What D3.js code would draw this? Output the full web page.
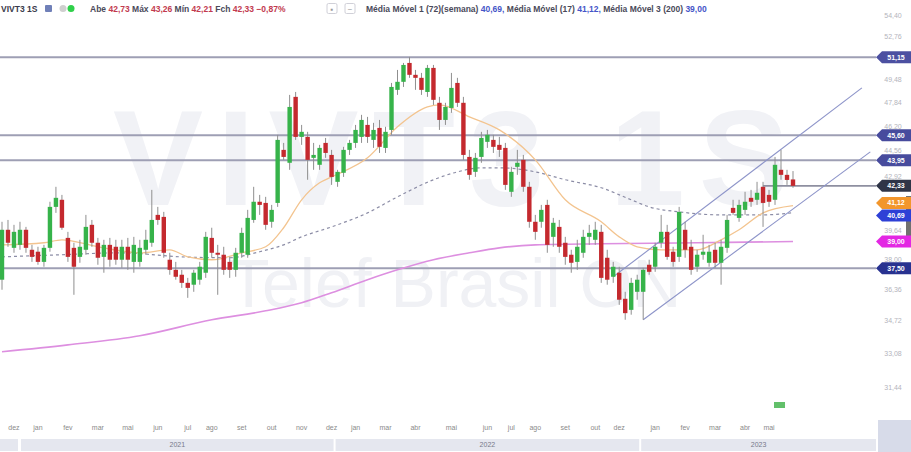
<!DOCTYPE html>
<html><head><meta charset="utf-8">
<script src="https://cdn.jsdelivr.net/npm/d3@7"></script>
<style>html,body{margin:0;padding:0;background:#fff;overflow:hidden}svg{display:block;font-family:"Liberation Sans",Arial,sans-serif}</style>
</head><body><svg id="c" width="911" height="452"></svg>
<script>
// ---------- DATA ----------
const ticker = "VIVT3 1S";
const company = "Telef Brasil ON";
// weekly candles [open, high, low, close]
const candles = [
[36.87,40.15,36.33,39.68],[39.68,40.26,38.70,38.93],[38.64,39.97,38.36,39.56],[38.81,40.15,38.53,39.68],
[39.68,39.85,38.36,38.64],[38.53,38.81,37.85,38.13],[38.42,38.70,37.69,37.85],[37.85,38.81,37.58,38.64],
[38.64,41.35,38.42,41.04],[41.04,42.27,40.68,41.59],[41.47,41.77,39.68,39.80],[39.21,39.56,37.85,38.13],
[38.64,38.93,36.06,37.58],[38.13,39.10,37.80,38.70],[38.53,40.56,38.25,39.85],[39.97,40.26,38.70,38.93],
[38.93,39.21,37.69,38.08],[38.13,39.10,37.25,38.81],[38.81,39.21,37.58,37.97],[38.70,39.10,37.69,37.97],
[37.97,39.10,37.52,38.70],[38.70,39.21,37.41,37.97],[37.85,39.27,37.25,38.81],[37.85,39.10,37.58,38.64],
[38.53,39.68,38.25,39.10],[38.93,42.08,38.70,40.26],[40.56,41.04,39.97,40.26],[40.44,40.74,38.08,38.36],
[37.97,38.36,37.14,37.41],[37.41,37.85,36.87,37.03],[37.14,37.41,36.43,36.70],[36.70,36.97,35.90,36.43],
[36.60,37.41,36.22,37.25],[36.87,37.85,36.60,37.58],[37.25,39.56,36.97,39.27],[39.21,39.80,38.08,38.36],
[38.36,38.81,36.06,38.25],[38.25,38.70,37.14,37.41],[37.85,38.13,36.97,37.41],[37.41,38.64,37.03,38.36],
[38.36,39.80,38.08,39.50],[38.25,40.86,38.08,40.38],[40.26,42.27,40.09,41.35],[41.35,41.77,40.56,41.16],
[41.28,41.65,39.68,39.97],[40.15,41.16,39.80,40.86],[41.28,45.63,41.04,45.29],[44.63,45.09,43.98,44.17],
[43.79,48.39,43.34,47.54],[48.25,48.60,45.29,45.49],[45.49,46.30,44.96,45.83],[45.49,45.83,42.71,43.98],
[44.11,45.09,43.34,44.30],[43.66,44.96,43.34,44.76],[45.09,45.42,44.11,44.43],[44.30,44.63,42.39,42.89],
[42.58,43.34,42.27,43.21],[43.15,44.83,42.89,44.63],[44.63,45.29,44.30,45.09],[45.09,46.30,44.76,45.96],
[45.49,46.99,45.09,46.64],[46.30,46.85,45.09,45.49],[45.29,46.44,44.76,45.96],[46.10,46.64,44.43,44.83],
[44.76,46.17,44.43,45.83],[45.96,49.25,45.63,48.96],[48.75,50.20,48.39,49.33],[49.33,50.72,48.96,50.57],
[50.72,51.17,49.62,49.84],[49.84,50.20,48.75,49.62],[49.62,49.98,48.39,48.75],[48.60,50.57,48.25,50.35],
[50.35,50.57,47.68,48.04],[47.83,48.25,45.96,46.64],[46.64,47.83,46.30,47.54],[47.47,49.98,47.13,48.89],
[49.25,49.62,47.54,47.83],[47.83,48.25,43.98,44.30],[44.17,44.63,42.71,43.02],[43.21,44.43,42.89,44.11],
[44.17,45.83,43.79,45.42],[45.16,45.96,44.76,45.63],[45.29,45.63,44.43,44.83],[44.96,45.49,44.17,44.63],
[44.76,45.09,42.08,42.39],[41.96,43.53,41.65,43.21],[43.53,44.63,43.02,43.79],[43.98,44.30,41.96,42.27],
[42.27,42.58,39.80,40.15],[40.15,40.56,39.10,39.56],[40.15,41.16,39.80,40.86],[41.16,41.47,38.36,38.81],
[39.27,40.38,38.70,40.09],[39.85,40.26,38.36,38.70],[38.93,39.27,37.69,38.13],[38.25,38.53,37.25,37.80],
[37.85,39.10,37.41,38.70],[38.36,39.68,38.08,39.27],[39.27,39.97,38.81,39.50],[39.10,40.15,38.81,39.68],
[39.56,39.97,36.70,36.97],[38.08,38.53,36.60,36.87],[37.03,37.85,36.70,37.58],[37.25,37.58,35.53,35.80],
[35.85,36.22,34.76,35.10],[35.27,36.97,35.02,36.70],[36.22,37.14,35.80,36.87],[36.22,37.52,34.76,37.41],
[37.69,37.97,37.14,37.30],[37.58,38.93,37.30,38.70],[38.93,40.56,38.64,39.56],[39.56,39.97,37.97,38.13],
[38.42,38.70,37.58,37.85],[38.13,41.04,37.85,40.74],[39.68,40.15,38.08,38.53],[38.70,39.10,37.14,37.41],
[37.58,38.53,37.30,38.25],[38.25,39.39,37.97,38.42],[37.80,38.81,37.58,38.42],[38.53,38.93,37.52,37.80],
[37.80,39.10,36.60,38.70],[38.64,40.56,38.36,40.26],[40.98,41.47,40.56,40.68],[40.38,41.47,40.15,41.16],
[40.86,41.96,40.56,41.35],[41.59,42.08,41.04,41.35],[41.47,42.58,41.16,41.90],[42.27,42.58,39.85,41.28],
[41.77,42.08,41.04,41.35],[41.47,44.17,41.16,43.66],[43.34,44.63,42.71,43.02],[43.02,43.34,42.39,42.70],
[42.73,43.26,42.21,42.33]
];
// moving averages, read at [candle index, value]
const ma72 = [[0,38.13],[10,38.25],[20,38.36],[30,38.13],[38,38.08],[43,38.42],[47,38.81],[50,39.27],[55,39.85],
[61,40.68],[66,41.65],[72,42.71],[76,43.21],[80,43.47],[83,43.47],[89,43.21],[94,42.71],[100,42.21],[105,41.47],
[108,41.04],[113,40.74],[120,40.56],[127,40.56],[132,40.69]];
const ma17 = [[0,38.81],[7,38.93],[10,39.10],[16,38.70],[23,38.36],[28,38.53],[31,38.13],[35,37.97],[40,38.36],
[44,38.70],[47,39.80],[50,41.47],[53,42.52],[55,42.89],[61,44.11],[66,46.17],[71,47.54],[73,47.68],[78,46.85],
[83,45.96],[89,43.98],[94,41.47],[100,40.15],[103,39.27],[106,38.70],[110,38.53],[116,38.53],[120,39.10],
[123,39.68],[127,40.68],[132,41.12]];
const ma200 = [[0,33.16],[11,33.50],[23,33.95],[35,34.76],[44,35.22],[50,35.64],[55,36.17],[61,36.87],[66,37.41],
[72,37.97],[78,38.36],[83,38.64],[89,38.81],[100,38.87],[116,38.93],[132,39.00]];
const maNames = ["Média Móvel 1 (72)(semana)", "Média Móvel (17)", "Média Móvel 3 (200)"];
// horizontal support / resistance levels
const levels = [51.15, 45.60, 43.95, 37.50];
const rayStart = 127; // horizontal ray at the last close
// trend channel [index, price]
const channelUpper = [[102,37.03],[143.5,48.89]];
const channelLower = [[107,34.76],[144.9,44.50]];
// axis labels
const yTicks = [31.44,33.08,34.72,36.36,38.00,39.64,41.28,42.92,44.56,46.20,47.84,49.48,51.12,52.76,54.40];
const monthTickIdx = [2,6,11,16,21,26,31,35,40,45,50,55,59,64,69,75,81,85,89,94,99,103,109,114,119,124,128];
const monthTickLabels = ["dez","jan","fev","mar","mai","jun","jul","ago","set","out","nov","dez","jan","mar","abr","mai","jun","jul","ago","set","out","dez","jan","fev","mar","abr","mai"];
const years = ["2021","2022","2023"];
const yearStartIdx = [3, 55.5, 106.5];

// ---------- DRAW ----------
const W = 911, H = 452, plotRight = 876;
const svg = d3.select("#c");
const fmt = v => d3.format(".2f")(v).replace(".", ",");
const x = d3.scaleLinear().domain([0, candles.length - 1]).range([2, 793]);
const y = d3.scaleLog().domain([30.89, 55.64]).range([400, 0]);

// watermark
svg.append("text").attr("x",113).attr("y",205).attr("font-size",135).attr("font-weight","bold")
  .attr("letter-spacing",14).attr("fill","#f1f2f6").text(ticker);
svg.append("text").attr("x",228).attr("y",307).attr("font-size",68)
  .attr("fill","#f0f1f5").text(company);

// horizontal levels
svg.selectAll("line.lvl").data(levels).join("line").attr("class","lvl")
  .attr("x1",0).attr("x2",plotRight).attr("y1",d=>y(d)).attr("y2",d=>y(d))
  .attr("stroke","#9e9fb4").attr("stroke-width",2);
const last = candles[candles.length-1];
svg.append("line").attr("x1",x(rayStart)).attr("x2",plotRight).attr("y1",y(last[3])).attr("y2",y(last[3]))
  .attr("stroke","#8e8fa0").attr("stroke-width",1.8);

// moving averages
const line = d3.line().x(d=>x(d[0])).y(d=>y(d[1])).curve(d3.curveMonotoneX);
svg.append("path").attr("d",line(ma200)).attr("fill","none").attr("stroke","#dd8fe0").attr("stroke-width",1.6);
svg.append("path").attr("d",line(ma72)).attr("fill","none").attr("stroke","#8c8da6").attr("stroke-width",1.2).attr("stroke-dasharray","3,3");
svg.append("path").attr("d",line(ma17)).attr("fill","none").attr("stroke","#f3c48f").attr("stroke-width",1.3);

// channel
[channelUpper, channelLower].forEach(c => {
  svg.append("line").attr("x1",x(c[0][0])).attr("y1",y(c[0][1])).attr("x2",x(c[1][0])).attr("y2",y(c[1][1]))
    .attr("stroke","#8d94c9").attr("stroke-width",1.1);
});

// candles
const cg = svg.append("g");
cg.selectAll("line").data(candles).join("line")
  .attr("x1",(d,i)=>x(i)).attr("x2",(d,i)=>x(i)).attr("y1",d=>y(d[1])).attr("y2",d=>y(d[2]))
  .attr("stroke","#8f8f8f").attr("stroke-width",1);
cg.selectAll("rect").data(candles).join("rect")
  .attr("x",(d,i)=>x(i)-2.2).attr("width",4.4)
  .attr("y",d=>y(Math.max(d[0],d[3])))
  .attr("height",d=>Math.max(1.2, Math.abs(y(d[0])-y(d[3]))))
  .attr("fill",d=>d[3]>=d[0] ? "#36b34a" : "#c4292e");

// price tags (with overlap resolution)
const boxes = [
  {v:levels[0], c:"#4c50a1"},{v:levels[1], c:"#474b9d"},{v:levels[2], c:"#474b9d"},
  {v:last[3], c:"#2f3547"},{v:ma17[ma17.length-1][1], c:"#f2962c"},
  {v:ma72[ma72.length-1][1], c:"#2e40d6"},{v:ma200[ma200.length-1][1], c:"#e327e3"},
  {v:levels[3], c:"#283290"}
];
boxes.forEach(b => b.py = y(b.v));
boxes.sort((a,b) => a.py - b.py);
for (let it = 0; it < 10; it++) {
  for (let i = 1; i < boxes.length; i++) {
    const gap = boxes[i].py - boxes[i-1].py;
    if (gap < 12.5) { const s = (12.5 - gap) / 2; boxes[i-1].py -= s; boxes[i].py += s; }
  }
}

// right axis tick labels
svg.selectAll("text.yt").data(yTicks.filter(t => boxes.every(b => Math.abs(y(t)-b.py) > 8)))
  .join("text").attr("class","yt").attr("x",893).attr("y",d=>y(d)).attr("dy","0.35em")
  .attr("text-anchor","middle").attr("font-size",7).attr("fill","#b4b4bc").text(fmt);

// scroll marker
svg.append("rect").attr("x",906).attr("y",y(41.7)).attr("width",5).attr("height",y(39.1)-y(41.7)).attr("fill","#707070");

const tg = svg.selectAll("g.tag").data(boxes).join("g").attr("class","tag")
  .attr("transform",d=>`translate(0,${d.py})`);
tg.append("path").attr("d","M876,0 L882,-6 L913,-6 L913,6 L882,6 Z").attr("fill",d=>d.c);
tg.append("text").attr("x",896).attr("dy","0.35em").attr("text-anchor","middle").attr("font-size",7)
  .attr("font-weight","bold").attr("fill","#fff").text(d=>fmt(d.v));

// bottom axis
svg.selectAll("text.mt").data(monthTickIdx).join("text").attr("class","mt")
  .attr("x",d=>x(d)).attr("y",430).attr("text-anchor","middle").attr("font-size",7).attr("fill","#8a8a8a")
  .text((d,i)=>monthTickLabels[i]);
const bandY = 439, bandH = 12;
svg.append("rect").attr("x",0).attr("y",bandY).attr("width",x(yearStartIdx[0])-2).attr("height",bandH).attr("fill","#e5e7ef");
years.forEach((yr,i) => {
  const x0 = x(yearStartIdx[i]) + 1;
  const x1 = i < years.length-1 ? x(yearStartIdx[i+1]) - 1 : plotRight;
  svg.append("rect").attr("x",x0).attr("y",bandY).attr("width",x1-x0).attr("height",bandH).attr("fill","#e5e7ef");
  svg.append("text").attr("x",(x0+x1)/2).attr("y",bandY+bandH/2).attr("dy","0.35em").attr("text-anchor","middle")
    .attr("font-size",7).attr("fill","#77798a").text(yr);
});
svg.append("rect").attr("x",878).attr("y",420).attr("width",33).attr("height",32).attr("fill","#d7dbe9");
svg.append("rect").attr("x",x(130)-7).attr("y",402).attr("width",11).attr("height",6).attr("fill","#62c06a");

// header
const hg = svg.append("g").attr("font-size",8.5).attr("font-weight","bold");
hg.append("text").attr("x",1).attr("y",12).attr("fill","#3a3a4a").text(ticker);
hg.append("rect").attr("x",45).attr("y",5).attr("width",7).attr("height",7).attr("rx",1).attr("fill","#7080b8");
hg.append("circle").attr("cx",63).attr("cy",8.5).attr("r",3.5).attr("fill","#cfcfcf");
hg.append("circle").attr("cx",71).attr("cy",8.5).attr("r",3.5).attr("fill","#2fd04a");
const prev = candles[candles.length-2][3];
const chg = (last[3]/prev - 1) * 100;
const t1 = hg.append("text").attr("x",90).attr("y",12);
[["Abe ",0],[fmt(last[0])+" ",1],["Máx ",0],[fmt(last[1])+" ",1],["Mín ",0],[fmt(last[2])+" ",1],["Fch ",0],[fmt(last[3])+" ",1],[fmt(chg)+"%",1]]
  .forEach(([s,k]) => t1.append("tspan").attr("fill", k ? "#c23a4e" : "#4a4a5a").text(s));
[327,345].forEach((bx,i) => {
  hg.append("rect").attr("x",bx).attr("y",3.5).attr("width",10).attr("height",10).attr("rx",1.5)
    .attr("fill","#fff").attr("stroke","#d0d0d8");
  hg.append("text").attr("x",bx+5).attr("y",11.5).attr("text-anchor","middle").attr("font-size",8)
    .attr("font-weight","normal").attr("fill","#999").text(i ? "−" : "▪");
});
const t2 = hg.append("text").attr("x",366).attr("y",12);
const maVals = [ma72, ma17, ma200].map(a => a[a.length-1][1]);
maNames.forEach((n,i) => {
  t2.append("tspan").attr("fill","#4a4a5a").text(n + " ");
  t2.append("tspan").attr("fill","#4555c8").text(fmt(maVals[i]) + (i < 2 ? ", " : ""));
});
</script></body></html>
